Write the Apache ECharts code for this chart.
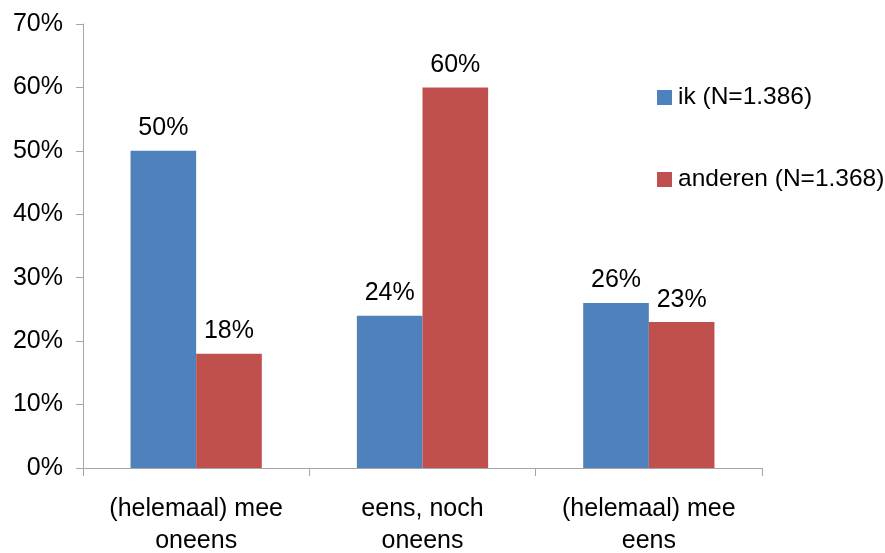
<!DOCTYPE html>
<html>
<head>
<meta charset="utf-8">
<script src="https://cdn.jsdelivr.net/npm/echarts@6/dist/echarts.min.js"></script>
<style>html,body{margin:0;padding:0;background:#fff}#c{width:885px;height:553px}</style>
</head>
<body>
<div id="c"></div>
<script>
const categories = ['(helemaal) mee\noneens', 'eens, noch\noneens', '(helemaal) mee\neens'];
const seriesNames = ['ik (N=1.386)', 'anderen (N=1.368)'];
const ikValues = [50, 24, 26];
const anderenValues = [18, 60, 23];
const yTicks = [0, 10, 20, 30, 40, 50, 60, 70];

const font = 'Liberation Sans, Arial, sans-serif';
const fs = 25;
const chart = echarts.init(document.getElementById('c'), null, {renderer: 'canvas'});
const labelCfg = {
  show: true, position: 'top', distance: 10,
  formatter: p => p.value + '%',
  fontFamily: font, fontSize: fs, color: '#000'
};
chart.setOption({
  animation: false,
  backgroundColor: '#fff',
  grid: {left: 83, right: 123, top: 24, bottom: 85, containLabel: false, outerBoundsMode: 'none'},
  legend: {
    orient: 'vertical', left: 652, top: 80, itemWidth: 15, itemHeight: 15, itemGap: 57,
    icon: 'rect',
    textStyle: {fontFamily: font, fontSize: 24.5, color: '#000', padding: [0,0,0,1]},
    data: seriesNames
  },
  xAxis: {
    type: 'category', data: categories,
    axisLine: {lineStyle: {color: '#a6a6a6', width: 1}},
    axisTick: {show: true, length: 8, lineStyle: {color: '#a6a6a6'}},
    axisLabel: {fontFamily: font, fontSize: fs, color: '#000', margin: 25, lineHeight: 32, interval: 0}
  },
  yAxis: {
    type: 'value', min: yTicks[0], max: yTicks[yTicks.length - 1], interval: 10,
    axisLine: {show: true, lineStyle: {color: '#a6a6a6', width: 1}},
    axisTick: {show: true, length: 7, lineStyle: {color: '#a6a6a6'}},
    splitLine: {show: false},
    axisLabel: {fontFamily: font, fontSize: fs, color: '#000', margin: 20, formatter: v => v + '%'}
  },
  series: [
    {name: seriesNames[0], type: 'bar', data: ikValues, itemStyle: {color: '#4F81BD'},
     barGap: '0%', barCategoryGap: '42%', label: labelCfg},
    {name: seriesNames[1], type: 'bar', data: anderenValues, itemStyle: {color: '#C0504D'},
     barGap: '0%', barCategoryGap: '42%', label: labelCfg}
  ]
});
</script>
</body>
</html>
